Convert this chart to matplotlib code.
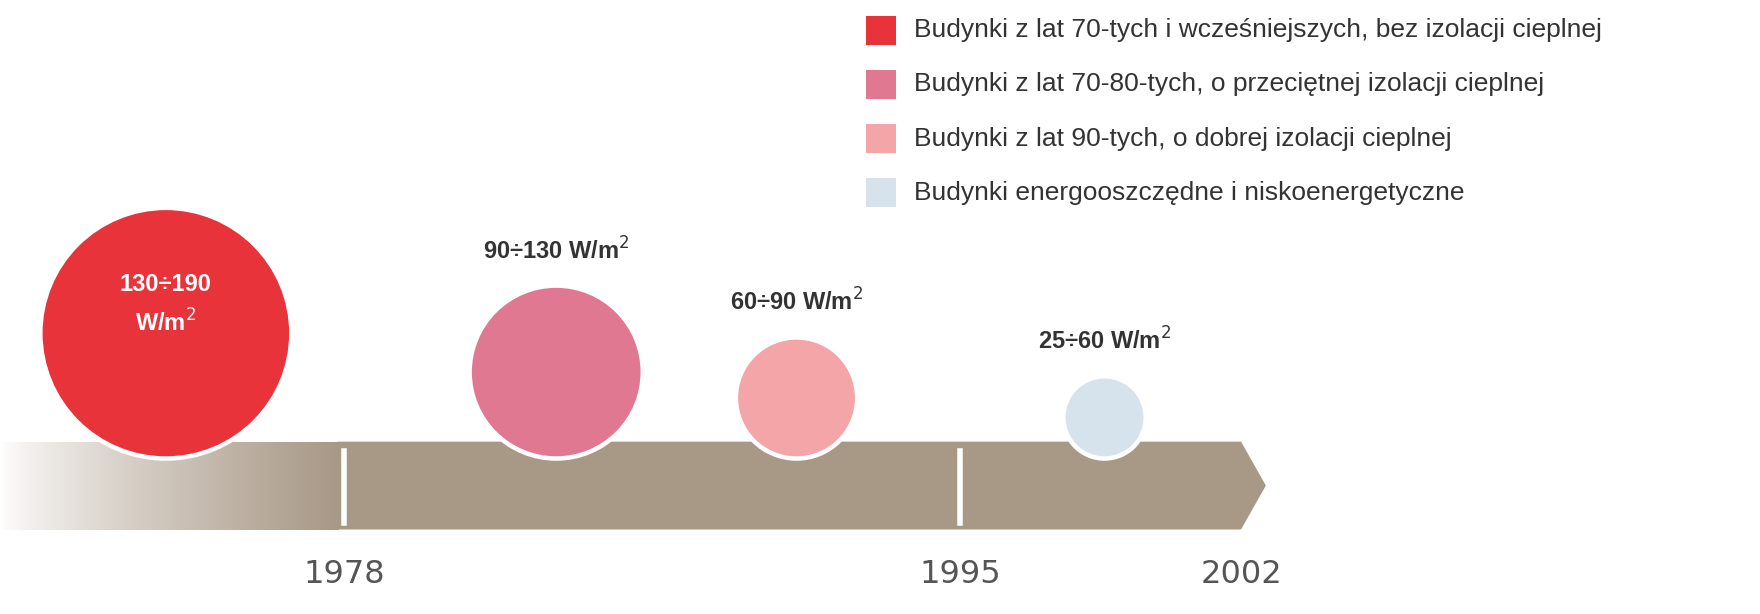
import matplotlib
matplotlib.use("Agg")
import matplotlib.pyplot as plt
import numpy as np
from matplotlib.patches import Circle, Polygon, Rectangle

legend_labels = ["Budynki z lat 70-tych i wcześniejszych, bez izolacji cieplnej",
                 "Budynki z lat 70-80-tych, o przeciętnej izolacji cieplnej",
                 "Budynki z lat 90-tych, o dobrej izolacji cieplnej",
                 "Budynki energooszczędne i niskoenergetyczne"]
colors = ["#e8333a", "#e07892", "#f3a5a7", "#d6e3ec"]
range_low = [130, 90, 60, 25]
range_high = [190, 130, 90, 60]
circle_x = [147, 493, 706, 979]
years = ["1978", "1995", "2002"]
year_x = [305, 851, 1100]

W, H = 1560, 545
fig = plt.figure(figsize=(17.6, 6.14), dpi=100)
ax = fig.add_axes([0, 0, 1, 1])
ax.set_xlim(0, W); ax.set_ylim(H, 0); ax.axis("off")

brown = np.array([168, 152, 134]) / 255
y0, y1 = 392, 470
grad = np.ones((1, 300, 4))
t = np.linspace(0, 1, 300) ** 0.8
for i in range(3):
    grad[0, :, i] = 1 - t * (1 - brown[i])
ax.imshow(grad, extent=(0, 300, y1, y0), aspect="auto", zorder=1)
ax.add_patch(Polygon([(299, y0), (1100, y0), (1122, (y0 + y1) / 2), (1100, y1), (299, y1)],
                     closed=True, fc=brown, ec="none", zorder=1))
for x in year_x[:2]:
    ax.plot([x, x], [y0 + 8, y1 - 6], color="white", lw=4, zorder=2)

for x, lo, hi, c in zip(circle_x, range_low, range_high, colors):
    r = 0.575 * hi
    cy = 405 - r
    ax.add_patch(Circle((x, cy), r + 4, fc="white", ec="none", zorder=3))
    ax.add_patch(Circle((x, cy), r, fc=c, ec="none", zorder=4))
    if hi == max(range_high):
        ax.text(x, cy - 25, f"{lo}÷{hi}\nW/m$^2$", ha="center", va="center", color="white",
                fontsize=17, fontweight="bold", linespacing=1.6, zorder=5, family="Liberation Sans")
    else:
        ax.text(x, cy - r - 33, f"{lo}÷{hi} W/m$^2$", ha="center", va="center", color="#333333",
                fontsize=17, fontweight="bold", zorder=5, family="Liberation Sans")

for x, y in zip(year_x, years):
    ax.text(x, 510, y, ha="center", va="center", fontsize=23, color="#555555", zorder=5)

for i, (lab, c) in enumerate(zip(legend_labels, colors)):
    yy = 27 + i * 48
    ax.add_patch(Rectangle((768, yy - 13), 26, 26, fc=c, ec="none"))
    ax.text(810, yy, lab, ha="left", va="center", fontsize=19, color="#333333",
            family="Liberation Sans")

fig.savefig("out.png", dpi=100, facecolor="white")
